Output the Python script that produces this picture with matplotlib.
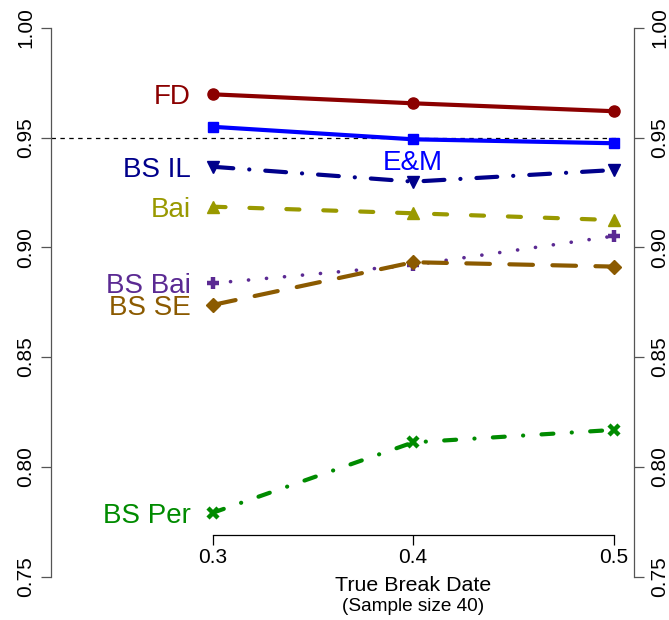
import matplotlib
matplotlib.use("Agg")
import matplotlib.pyplot as plt
from matplotlib.transforms import blended_transform_factory

plt.rcParams['font.family'] = ['Liberation Sans', 'DejaVu Sans']
plt.rcParams['lines.scale_dashes'] = False

# ---- data ----
break_dates = [0.3, 0.4, 0.5]
fd = [0.9697, 0.9656, 0.9620]
em = [0.9549, 0.9492, 0.9474]
bs_il = [0.9367, 0.9299, 0.9352]
bai = [0.9185, 0.9155, 0.9124]
bs_bai = [0.8836, 0.8919, 0.9051]
bs_se = [0.8737, 0.8932, 0.8912]
bs_per = [0.7790, 0.8111, 0.8168]
nominal = 0.95
y_ticks = [0.75, 0.80, 0.85, 0.90, 0.95, 1.00]
y_tick_labels = ["0.75", "0.80", "0.85", "0.90", "0.95", "1.00"]
x_tick_labels = ["0.3", "0.4", "0.5"]

series = [
    # label, values, color, marker, ms, mew, lw, dashes
    ("FD", fd, "#8B0000", "o", 8, 1, 3.0, None),
    ("E&M", em, "#0000FF", "s", 7.5, 1, 3.0, None),
    ("BS IL", bs_il, "#00008B", "v", 8.5, 1, 3.0, (15, 11.5, 0.1, 11.5)),
    ("Bai", bai, "#999900", "^", 8.5, 1, 3.0, (9.4, 17.2)),
    ("BS Bai", bs_bai, "#5B2A93", "+", 9, 3.2, 2.6, (0.1, 12.9)),
    ("BS SE", bs_se, "#8B5A00", "D", 7.5, 1, 3.0, (17, 14)),
    ("BS Per", bs_per, "#008B00", "x", 6.5, 3.2, 3.0, (8.6, 13.2, 0.1, 13.2)),
]

W, H = 669, 620
fig = plt.figure(figsize=(W / 100, H / 100), dpi=100)
left_px, right_px, top_px, bot_px = 51, 634.3, 27.8, 576.5
ax = fig.add_axes([left_px / W, (H - bot_px) / H, (right_px - left_px) / W, (bot_px - top_px) / H])
ax.set_ylim(0.75, 1.0)
px_per_unit = (613.7 - 212.5) / 0.2
ax.set_xlim(0.3 - (212.5 - left_px) / px_per_unit, 0.5 + (right_px - 613.7) / px_per_unit)

# reference line
ax.axhline(nominal, xmin=0, xmax=(617 - left_px) / (right_px - left_px), color="black",
           lw=0.9, dashes=(3.2, 3.2), zorder=1)

for label, vals, color, marker, ms, mew, lw, dashes in series:
    kw = dict(color=color, lw=lw, marker=marker, ms=ms, mew=mew, mec=color, mfc=color,
              solid_capstyle="round", dash_capstyle="round", zorder=3)
    if dashes is not None:
        kw["dashes"] = dashes
    ax.plot(break_dates, vals, **kw)
    fs = 20
    if label == "E&M":
        ax.annotate(label, xy=(break_dates[1], vals[1]), xytext=(0, -22), textcoords="offset points",
                    ha="center", va="baseline", fontsize=fs, color=color)
    else:
        ax.annotate(label, xy=(break_dates[0], vals[0]), xytext=(-15.5, -0.358 * fs),
                    textcoords="offset points", ha="right", va="baseline", fontsize=fs, color=color)

# axes styling
for s in ["top"]:
    ax.spines[s].set_visible(False)
grey = "#555555"
ax.spines["left"].set_bounds(0.75, 1.0)
ax.spines["right"].set_bounds(0.75, 1.0)
ax.spines["left"].set_color(grey)
ax.spines["right"].set_color(grey)
ax.spines["left"].set_linewidth(0.9)
ax.spines["right"].set_linewidth(0.9)
x_axis_val = 1.0 - (534.5 - top_px) / (bot_px - top_px) * 0.25
ax.spines["bottom"].set_position(("data", x_axis_val))
ax.spines["bottom"].set_bounds(0.3, 0.5)
ax.spines["bottom"].set_linewidth(0.9)

ax.set_xticks(break_dates)
ax.set_xticklabels(x_tick_labels)
ax.set_yticks(y_ticks)
ax.set_yticklabels(y_tick_labels, rotation=90, va="center")
ax.tick_params(axis="x", length=7.5, width=0.9, pad=2.5, labelsize=15, direction="out")
ax.tick_params(axis="y", length=7, width=0.9, pad=4.5, labelsize=15, direction="out",
               color=grey, left=True, right=True, labelleft=True, labelright=True)
for lab in ax.get_yticklabels(which="both"):
    lab.set_va("center")
for t in ax.yaxis.get_major_ticks():
    t.label2.set_rotation(90)
    t.label2.set_va("center")

tr = blended_transform_factory(ax.transData, fig.transFigure)
ax.text(0.4, (H - 590.6) / H, "True Break Date", transform=tr, ha="center", va="baseline", fontsize=15.4)
ax.text(0.4, (H - 610.8) / H, "(Sample size 40)", transform=tr, ha="center", va="baseline", fontsize=13.7)

fig.savefig("out.png", dpi=100)
